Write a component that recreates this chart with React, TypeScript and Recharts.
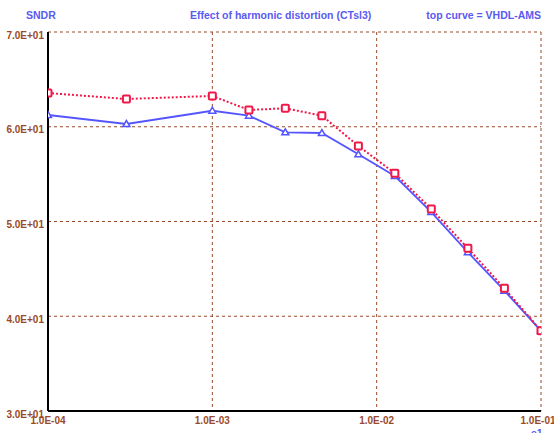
import { CartesianGrid, Line, LineChart, XAxis, YAxis } from "recharts";

const frequencies = [1e-4, 3e-4, 1e-3, 1.67e-3, 2.78e-3, 4.64e-3, 7.74e-3, 1.29e-2, 2.15e-2, 3.59e-2, 5.99e-2, 1e-1];
const vhdlSndr = [63.56, 62.93, 63.25, 61.77, 61.95, 61.17, 57.97, 55.09, 51.32, 47.17, 42.95, 38.48];
const refSndr = [61.24, 60.29, 61.69, 61.17, 59.41, 59.34, 57.09, 54.8, 51.0, 46.75, 42.7, 38.45];
const xTicks = [1e-4, 1e-3, 1e-2, 1e-1];
const yTicks = [30, 40, 50, 60, 70];

const data = frequencies.map((f, i) => ({ f, vhdl: vhdlSndr[i], ref: refSndr[i] }));

const BROWN = "#9a4a2a";
const BLUE = "#5a5af0";
const FONT = "Liberation Sans, Arial, sans-serif";

const fmtX = (v: number) => {
  const e = Math.round(Math.log10(v));
  return `1.0E-${String(-e).padStart(2, "0")}`;
};
const fmtY = (v: number) => `${(v / 10).toFixed(1)}E+01`;

const Square = (props: any) => {
  const { cx, cy, index } = props;
  return (
    <rect key={`sq-${index}`} x={cx - 3.5} y={cy - 3.5} width={7} height={7} rx={1} fill="#fff" stroke="#f01848" strokeWidth={2} />
  );
};

const Triangle = (props: any) => {
  const { cx, cy, index } = props;
  return (
    <polygon
      key={`tr-${index}`}
      points={`${cx},${cy - 3.5} ${cx - 3.5},${cy + 2.5} ${cx + 3.5},${cy + 2.5}`}
      fill="#fff"
      stroke="#5555ff"
      strokeWidth={1.5}
    />
  );
};

const titleStyle = { position: "absolute" as const, top: 9, fontFamily: FONT, fontWeight: 700, fontSize: 10.5, color: BLUE };

export default function App() {
  return (
    <div style={{ position: "absolute", left: 0, top: 0, width: 554, height: 433, background: "#fff", overflow: "hidden" }}>
      <div style={{ ...titleStyle, left: 26 }}>SNDR</div>
      <div style={{ ...titleStyle, left: 190 }}>Effect of harmonic distortion (CTsl3)</div>
      <div style={{ ...titleStyle, right: 13 }}>top curve = VHDL-AMS</div>
      <div style={{ ...titleStyle, top: 427, left: 531 }}>e1</div>
      <LineChart width={554} height={433} data={data} margin={{ top: 32, right: 13, left: 0, bottom: 0 }}>
        <CartesianGrid stroke={BROWN} strokeDasharray="3 3" strokeWidth={1} />
        <XAxis
          dataKey="f"
          type="number"
          scale="log"
          domain={[1e-4, 1e-1]}
          ticks={xTicks}
          tickFormatter={fmtX}
          height={22}
          tickLine={false}
          tickSize={0}
          tickMargin={6}
          axisLine={{ stroke: "#000", strokeWidth: 2 }}
          tick={{ fill: BROWN, fontSize: 10, fontWeight: 700, fontFamily: FONT }}
          allowDataOverflow
        />
        <YAxis
          type="number"
          domain={[30, 70]}
          ticks={yTicks}
          tickFormatter={fmtY}
          width={48}
          tickLine={false}
          tickSize={0}
          tickMargin={4}
          axisLine={{ stroke: "#000", strokeWidth: 2 }}
          tick={{ fill: BROWN, fontSize: 10, fontWeight: 700, fontFamily: FONT, dy: 3 }}
        />
        <Line dataKey="ref" type="linear" stroke="#5555ff" strokeWidth={1.8} dot={Triangle} isAnimationActive={false} />
        <Line dataKey="vhdl" type="linear" stroke="#f01848" strokeWidth={2} strokeDasharray="2 2" dot={Square} isAnimationActive={false} />
      </LineChart>
    </div>
  );
}
